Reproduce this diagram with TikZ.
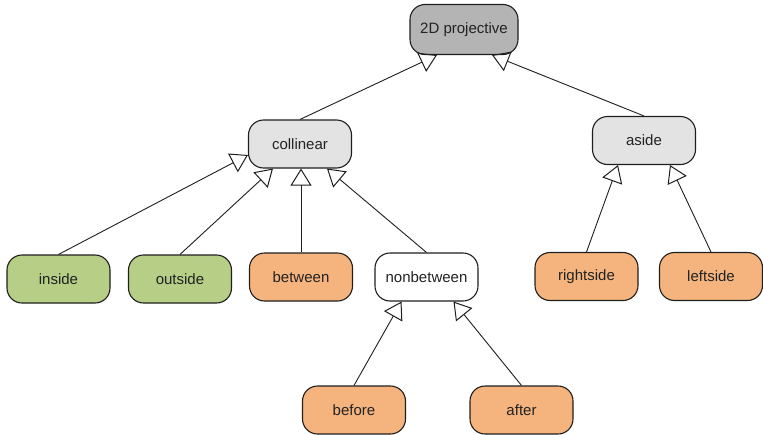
\documentclass[tikz,border=0pt]{standalone}
\usepackage{fontspec}
\setmainfont{Liberation Sans}
\usetikzlibrary{arrows.meta,calc}

\definecolor{boxline}{HTML}{1E1E1E}
\definecolor{labeltext}{HTML}{222222}
\definecolor{rootgray}{HTML}{B4B4B4}
\definecolor{midgray}{HTML}{E3E3E3}
\definecolor{leafgreen}{HTML}{B6CE86}
\definecolor{leaforange}{HTML}{F5B47E}

\tikzset{
  box/.style={draw=boxline, line width=1.1pt, rounded corners=15pt,
    minimum width=103pt, minimum height=48pt, inner sep=0pt,
    font=\fontsize{15}{18}\selectfont, text=labeltext},
  rootbox/.style={box, fill=rootgray, minimum width=108pt, minimum height=50pt},
  greybox/.style={box, fill=midgray},
  greenbox/.style={box, fill=leafgreen},
  orangebox/.style={box, fill=leaforange},
  whitebox/.style={box, fill=white},
  gen/.style={draw=boxline, line width=0.9pt,
    -{Triangle[open, length=17pt, width=21pt, line width=1pt]}},
}

\begin{document}
\begin{tikzpicture}[x=1pt, y=-1pt]
  \useasboundingbox (0,0) rectangle (763,434);

  % hierarchy boxes
  \node[rootbox]   (proj)       at (464,29.5) {2D projective};
  \node[greybox]   (collinear)  at (300,144)  {collinear};
  \node[greybox]   (aside)      at (644,140.5){aside};
  \node[greenbox]  (inside)     at (58.5,279) {inside};
  \node[greenbox]  (outside)    at (180,279)  {outside};
  \node[orangebox] (between)    at (301,277)  {between};
  \node[whitebox]  (nonbetween) at (426.5,277){nonbetween};
  \node[orangebox] (rightside)  at (586.5,276.5){rightside};
  \node[orangebox] (leftside)   at (711,276.5) {leftside};
  \node[orangebox] (before)     at (354,410)  {before};
  \node[orangebox] (after)      at (521.5,410){after};

  % generalisation arrows (child -> parent)
  \draw[gen] (collinear.north) -- ($(proj.south)+(-27,0)$);
  \draw[gen] (aside.north)     -- ($(proj.south)+(28,0)$);

  \draw[gen] (inside.north)    -- ($(collinear.west)+(0,11)$);
  \draw[gen] (outside.north)   -- ($(collinear.south)+(-27,0)$);
  \draw[gen] (between.north)   -- (between.north |- collinear.south);
  \draw[gen] (nonbetween.north)-- ($(collinear.south)+(27,0)$);

  \draw[gen] (before.north)    -- ($(nonbetween.south)+(-25,0)$);
  \draw[gen] (after.north)     -- ($(nonbetween.south)+(27,0)$);

  \draw[gen] (rightside.north) -- ($(aside.south)+(-26,0)$);
  \draw[gen] (leftside.north)  -- ($(aside.south)+(26,0)$);
\end{tikzpicture}
\end{document}
